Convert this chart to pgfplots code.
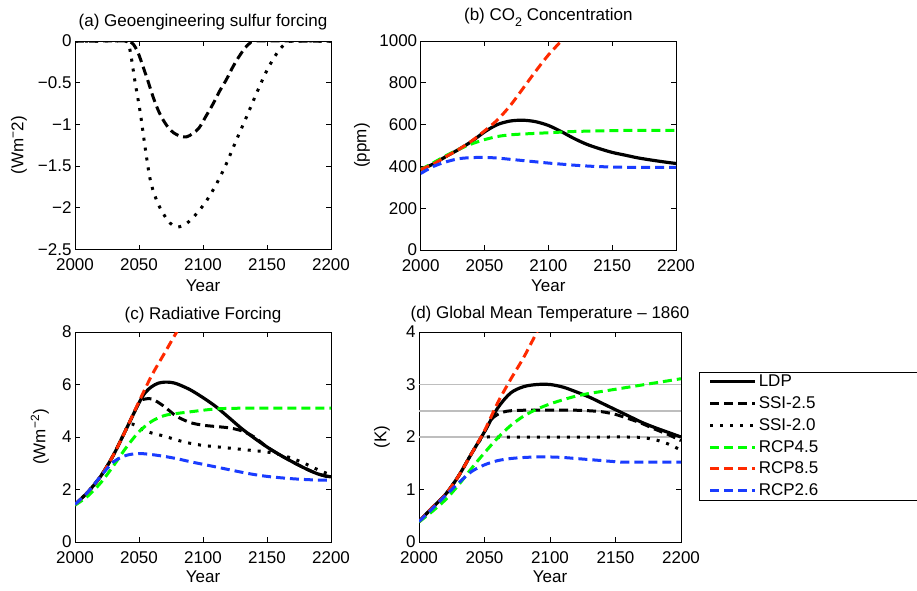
\documentclass[border=0pt]{standalone}
\usepackage{fontspec}
\setmainfont{Liberation Sans}
\setsansfont{Liberation Sans}
\usepackage{pgfplots}
\pgfplotsset{compat=1.18}
\newcommand{\fs}{\fontsize{17}{20}\selectfont}
\definecolor{cgreen}{RGB}{0,255,0}
\definecolor{cred}{RGB}{255,42,0}
\definecolor{cblue}{RGB}{26,60,255}
\definecolor{cgray}{RGB}{190,190,190}
\pgfplotsset{
  mystyle/.style={
    scale only axis, xmin=2000, xmax=2200, xtick={2000,2050,2100,2150,2200},
    tick align=inside, major tick length=5pt,
    axis line style={line width=1pt, black},
    every tick/.style={black, line width=0.8pt},
    /pgf/number format/1000 sep={}, /pgf/number format/assume math mode=true,
    scaled ticks=false,
    tick label style={font=\fs}, label style={font=\fs}, title style={font=\fs},
    xticklabel style={yshift=-6pt},
    xlabel={Year},
    clip=true,
  },
  ldp/.style={black, line width=3.2pt, smooth},
  s25/.style={black, line width=3pt, dash pattern=on 9pt off 5pt, smooth},
  s20/.style={black, line width=3pt, dash pattern=on 3pt off 7pt, smooth},
  r45/.style={cgreen, line width=3pt, dash pattern=on 9pt off 5pt, smooth},
  r85/.style={cred, line width=3pt, dash pattern=on 9pt off 5pt, smooth},
  r26/.style={cblue, line width=3pt, dash pattern=on 9pt off 5pt, smooth},
}
\begin{document}
\begin{tikzpicture}[font=\fs]
\useasboundingbox (0pt,0pt) rectangle (917pt,-590pt);
% (a)
\begin{axis}[mystyle, at={(75pt,-41pt)}, anchor=north west, width=256pt, height=208.5pt,
  ymin=-2.5, ymax=0, ytick={-2.5,-2,-1.5,-1,-0.5,0},
  yticklabels={−2.5,−2,−1.5,−1,−0.5,0},
  ylabel={(Wm\textsuperscript{−}2)},
  ylabel style={at={(axis description cs:-0.219,0.5)}, anchor=center},
  xlabel style={at={(axis description cs:0.5,-0.172)}, anchor=center},
  title={(a) Geoengineering sulfur forcing},
  title style={at={(axis description cs:0.5,1)}, anchor=base, yshift=9pt}]
\addplot[s25] coordinates {(2000,0)(2020,0)(2040,0)(2045,-0.03)(2049,-0.13)(2053,-0.3)(2057,-0.48)(2061,-0.67)(2065,-0.83)(2069,-0.95)(2073,-1.04)(2077,-1.10)(2082,-1.14)(2087,-1.15)(2092,-1.11)(2097,-1.04)(2102,-0.91)(2108,-0.75)(2113,-0.60)(2118,-0.47)(2123,-0.32)(2128,-0.19)(2133,-0.08)(2137,-0.02)(2140,0)(2170,0)(2200,0)};
\addplot[s20] coordinates {(2000,0)(2020,0)(2039,0)(2042,-0.05)(2044,-0.2)(2047,-0.5)(2051,-0.86)(2055,-1.3)(2059,-1.68)(2064,-1.92)(2069,-2.07)(2074,-2.18)(2080,-2.23)(2087,-2.19)(2095,-2.07)(2103,-1.91)(2111,-1.70)(2118,-1.48)(2126,-1.19)(2134,-0.91)(2142,-0.62)(2150,-0.35)(2158,-0.14)(2165,-0.02)(2170,0)(2185,0)(2200,0)};
\end{axis}
% (b)
\begin{axis}[mystyle, at={(420.7pt,-41pt)}, anchor=north west, width=255.3pt, height=209pt,
  ymin=0, ymax=1000, ytick={0,200,400,600,800,1000},
  ylabel={(ppm)},
  ylabel style={at={(axis description cs:-0.23,0.5)}, anchor=center},
  xlabel style={at={(axis description cs:0.5,-0.172)}, anchor=center},
  title={(b) CO\raisebox{-6pt}{\fontsize{12.5}{12.5}\selectfont 2} Concentration},
  title style={at={(axis description cs:0.5,1)}, anchor=base, yshift=15pt}]
\addplot[ldp] coordinates {(2000,385)(2010,412)(2020,448)(2030,482)(2040,520)(2050,565)(2060,600)(2070,617)(2080,621)(2090,614)(2100,596)(2110,567)(2120,534)(2130,506)(2140,485)(2150,467)(2160,454)(2170,441)(2180,431)(2190,422)(2200,414)};
\addplot[r45] coordinates {(2000,385)(2010,418)(2020,452)(2030,482)(2040,508)(2050,528)(2060,543)(2070,551)(2080,555)(2090,558)(2100,561)(2110,564)(2120,567)(2140,570)(2160,572)(2200,572)};
\addplot[r85] coordinates {(2000,385)(2010,412)(2020,448)(2030,482)(2040,522)(2050,570)(2060,622)(2070,690)(2080,772)(2090,855)(2100,933)(2110,1000)(2120,1075)};
\addplot[r26] coordinates {(2000,366)(2010,400)(2020,422)(2030,437)(2040,442)(2050,443)(2060,440)(2070,434)(2080,428)(2090,422)(2100,416)(2110,411)(2120,406)(2130,402)(2140,399)(2160,396)(2200,395)};
\end{axis}
% (c)
\begin{axis}[mystyle, at={(75pt,-332pt)}, anchor=north west, width=256pt, height=210pt,
  ymin=0, ymax=8, ytick={0,2,4,6,8},
  ylabel={(Wm\textsuperscript{−2})},
  ylabel style={at={(axis description cs:-0.137,0.5)}, anchor=center},
  xlabel style={at={(axis description cs:0.5,-0.167)}, anchor=center},
  title={(c) Radiative Forcing},
  title style={at={(axis description cs:0.5,1)}, anchor=base, yshift=6.3pt}]
\addplot[ldp] coordinates {(2000,1.43)(2010,1.9)(2020,2.5)(2030,3.31)(2040,4.3)(2050,5.3)(2055,5.7)(2060,5.92)(2065,6.05)(2070,6.09)(2075,6.08)(2080,6.02)(2090,5.80)(2100,5.50)(2110,5.16)(2120,4.75)(2130,4.33)(2140,3.96)(2150,3.62)(2160,3.32)(2170,3.05)(2180,2.80)(2190,2.59)(2200,2.48)};
\addplot[s25] coordinates {(2000,1.43)(2010,1.9)(2020,2.5)(2030,3.31)(2040,4.3)(2050,5.3)(2055,5.45)(2060,5.45)(2065,5.32)(2070,5.15)(2075,4.95)(2080,4.77)(2090,4.55)(2100,4.45)(2110,4.40)(2120,4.35)(2130,4.24)(2140,4.0)(2150,3.62)(2160,3.32)(2170,3.05)(2180,2.80)(2190,2.59)(2200,2.45)};
\addplot[s20] coordinates {(2000,1.43)(2010,1.9)(2020,2.5)(2030,3.31)(2040,4.3)(2043,4.5)(2047,4.45)(2053,4.28)(2060,4.15)(2070,4.03)(2080,3.88)(2090,3.76)(2100,3.68)(2110,3.63)(2120,3.58)(2130,3.53)(2140,3.48)(2150,3.43)(2160,3.33)(2170,3.18)(2180,2.98)(2190,2.75)(2200,2.55)};
\addplot[r45] coordinates {(2000,1.40)(2010,1.75)(2020,2.25)(2030,2.9)(2040,3.6)(2050,4.2)(2060,4.6)(2070,4.82)(2080,4.9)(2090,4.96)(2100,5.02)(2110,5.07)(2120,5.09)(2140,5.1)(2200,5.1)};
\addplot[r85] coordinates {(2000,1.43)(2010,1.9)(2020,2.5)(2030,3.31)(2040,4.3)(2050,5.35)(2060,6.35)(2070,7.2)(2080,8.05)(2085,8.5)};
\addplot[r26] coordinates {(2000,1.43)(2010,1.9)(2020,2.5)(2030,3.05)(2040,3.3)(2050,3.37)(2060,3.33)(2070,3.26)(2080,3.17)(2090,3.06)(2100,2.96)(2110,2.86)(2120,2.76)(2130,2.66)(2140,2.57)(2150,2.50)(2160,2.45)(2170,2.41)(2180,2.38)(2190,2.36)(2200,2.35)};
\end{axis}
% (d)
\begin{axis}[mystyle, at={(419pt,-332pt)}, anchor=north west, width=262pt, height=210pt,
  ymin=0, ymax=4, ytick={0,1,2,3,4},
  ylabel={(K)},
  ylabel style={at={(axis description cs:-0.141,0.5)}, anchor=center},
  xlabel style={at={(axis description cs:0.5,-0.167)}, anchor=center},
  title={(d) Global Mean Temperature – 1860},
  title style={at={(axis description cs:0.5,1)}, anchor=base, yshift=7.4pt},
  legend style={at={(1.069,0.811)}, anchor=north west, draw=black, line width=1pt, font=\fs,
    inner xsep=9pt, inner ysep=1pt, row sep=4.4pt},
  legend cell align=left,
  legend image code/.code={\draw[#1] (0pt,0pt) -- (45pt,0pt);}]
\addplot[cgray, line width=1.5pt, forget plot] coordinates {(2000,2)(2200,2)};
\addplot[cgray, line width=1.5pt, forget plot] coordinates {(2000,2.5)(2200,2.5)};
\addplot[cgray, line width=1.5pt, forget plot] coordinates {(2000,3)(2200,3)};
\addplot[ldp] coordinates {(2000,0.39)(2010,0.65)(2020,0.9)(2030,1.25)(2040,1.68)(2050,2.1)(2060,2.55)(2070,2.84)(2080,2.96)(2090,3.0)(2100,3.0)(2110,2.95)(2120,2.86)(2130,2.76)(2140,2.64)(2150,2.52)(2160,2.40)(2170,2.28)(2180,2.18)(2190,2.09)(2200,2.0)};
\addlegendentry{\makebox[150pt][l]{LDP}}
\addplot[s25] coordinates {(2000,0.39)(2010,0.65)(2020,0.9)(2030,1.25)(2040,1.68)(2050,2.1)(2055,2.33)(2060,2.43)(2065,2.48)(2070,2.5)(2080,2.51)(2100,2.51)(2120,2.51)(2130,2.50)(2140,2.48)(2150,2.43)(2160,2.35)(2170,2.26)(2180,2.15)(2190,2.05)(2200,1.93)};
\addlegendentry{SSI-2.5}
\addplot[s20] coordinates {(2000,0.39)(2010,0.65)(2020,0.9)(2030,1.25)(2040,1.68)(2047,1.95)(2052,2.0)(2060,2.0)(2080,2.0)(2100,2.0)(2120,2.0)(2140,2.0)(2160,2.0)(2170,1.99)(2180,1.95)(2190,1.87)(2200,1.75)};
\addlegendentry{SSI-2.0}
\addplot[r45] coordinates {(2000,0.38)(2010,0.58)(2020,0.8)(2030,1.08)(2040,1.40)(2050,1.70)(2060,1.98)(2070,2.22)(2080,2.40)(2090,2.53)(2100,2.63)(2110,2.71)(2120,2.78)(2130,2.83)(2140,2.87)(2150,2.91)(2160,2.95)(2170,2.99)(2180,3.03)(2190,3.07)(2200,3.11)};
\addlegendentry{RCP4.5}
\addplot[r85] coordinates {(2000,0.39)(2010,0.65)(2020,0.9)(2030,1.25)(2040,1.68)(2050,2.12)(2060,2.65)(2070,3.1)(2080,3.52)(2090,4.0)(2095,4.25)};
\addlegendentry{RCP8.5}
\addplot[r26] coordinates {(2000,0.39)(2010,0.63)(2020,0.88)(2030,1.12)(2040,1.34)(2050,1.47)(2060,1.55)(2070,1.59)(2080,1.61)(2090,1.62)(2100,1.62)(2110,1.61)(2120,1.59)(2130,1.57)(2140,1.55)(2150,1.53)(2160,1.52)(2200,1.52)};
\addlegendentry{RCP2.6}
\end{axis}
\end{tikzpicture}
\end{document}
